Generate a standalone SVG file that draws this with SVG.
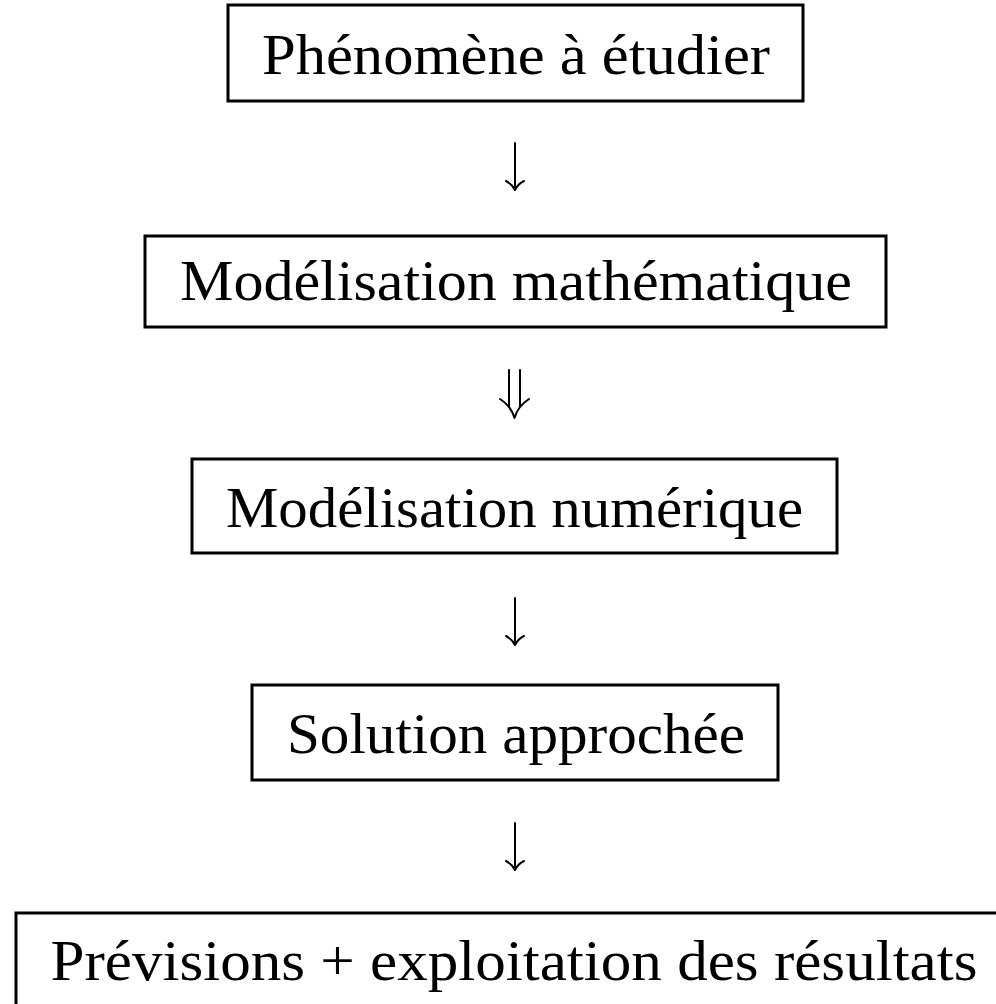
<svg xmlns="http://www.w3.org/2000/svg" width="996" height="1004" viewBox="0 0 996 1004">
<style>
.box{fill:#fff;stroke:#000;stroke-width:3}
.lbl{font-family:"Liberation Serif","DejaVu Serif",serif;font-size:57px;fill:#000;text-anchor:middle}
.arr{fill:none;stroke:#000;stroke-width:2;stroke-linecap:round;stroke-linejoin:round}
</style>
<rect width="996" height="1004" fill="#fff"/>
<g id="connectors">
<path class="arr" d="M515 143 V189 M506 181 Q512 184 515 190 Q518 184 524 181"/>
<path class="arr" d="M509 370 V407 M520 370 V407 M500 399 Q511 406 514.5 418 Q518 406 529 399"/>
<path class="arr" d="M515 598 V644 M506 636 Q512 639 515 645 Q518 639 524 636"/>
<path class="arr" d="M515 823 V869 M506 861 Q512 864 515 870 Q518 864 524 861"/>
</g>
<g id="n1"><rect class="box" x="228" y="5" width="575" height="96"/><text class="lbl" x="516" y="74" textLength="508" lengthAdjust="spacingAndGlyphs">Phénomène à étudier</text></g>
<g id="n2"><rect class="box" x="145" y="236" width="741" height="91"/><text class="lbl" x="516" y="300" textLength="672" lengthAdjust="spacingAndGlyphs">Modélisation mathématique</text></g>
<g id="n3"><rect class="box" x="192" y="459" width="645" height="94"/><text class="lbl" x="514.5" y="527" textLength="577" lengthAdjust="spacingAndGlyphs">Modélisation numérique</text></g>
<g id="n4"><rect class="box" x="252" y="685" width="526" height="95"/><text class="lbl" x="516" y="753" textLength="458" lengthAdjust="spacingAndGlyphs">Solution approchée</text></g>
<g id="n5"><rect class="box" x="16" y="913" width="1000" height="100"/><text class="lbl" x="514" y="980" textLength="927" lengthAdjust="spacingAndGlyphs">Prévisions + exploitation des résultats</text></g>
</svg>
